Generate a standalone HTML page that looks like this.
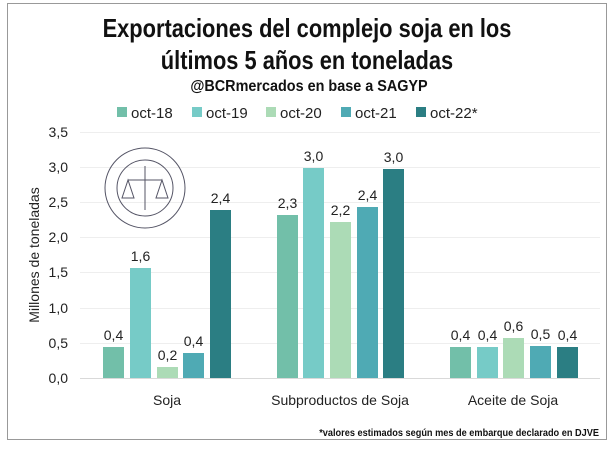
<!DOCTYPE html><html><head><meta charset="utf-8"><style>body{margin:0;background:#fff}svg{display:block}</style></head><body>
<svg width="614" height="449" xmlns="http://www.w3.org/2000/svg" font-family="Liberation Sans, sans-serif">
<rect x="0" y="0" width="614" height="449" fill="#fff"/>
<rect x="7.5" y="3.5" width="599" height="436" fill="none" stroke="#999" stroke-width="1"/>
<g font-weight="bold" text-anchor="middle" fill="#111">
<text x="307" y="37" font-size="26" transform="translate(307,0) scale(0.84,1) translate(-307,0)">Exportaciones del complejo soja en los</text>
<text x="307" y="69" font-size="26" transform="translate(307,0) scale(0.84,1) translate(-307,0)">últimos 5 años en toneladas</text>
<text x="309" y="91" font-size="16" transform="translate(309,0) scale(0.9,1) translate(-309,0)">@BCRmercados en base a SAGYP</text>
</g>
<g font-size="15" fill="#222">
<rect x="117" y="107" width="10" height="10" fill="#72bfa9"/><text x="131" y="118">oct-18</text>
<rect x="192" y="107" width="10" height="10" fill="#76cbc7"/><text x="206" y="118">oct-19</text>
<rect x="266" y="107" width="10" height="10" fill="#acdbb6"/><text x="280" y="118">oct-20</text>
<rect x="341" y="107" width="10" height="10" fill="#4faab4"/><text x="355" y="118">oct-21</text>
<rect x="416" y="107" width="10" height="10" fill="#2b7e83"/><text x="430" y="118">oct-22*</text>
</g>
<g stroke="#eee" stroke-width="1">
<line x1="80" x2="600" y1="132.5" y2="132.5"/><line x1="80" x2="600" y1="167.5" y2="167.5"/><line x1="80" x2="600" y1="202.5" y2="202.5"/><line x1="80" x2="600" y1="237.5" y2="237.5"/><line x1="80" x2="600" y1="272.5" y2="272.5"/><line x1="80" x2="600" y1="308.5" y2="308.5"/><line x1="80" x2="600" y1="343.5" y2="343.5"/>
</g>
<line x1="80" x2="600" y1="378.5" y2="378.5" stroke="#d9d9d9"/>
<g font-size="14" fill="#222" text-anchor="end">
<text x="68" y="383">0,0</text><text x="68" y="348">0,5</text><text x="68" y="313">1,0</text><text x="68" y="277">1,5</text><text x="68" y="242">2,0</text><text x="68" y="207">2,5</text><text x="68" y="172">3,0</text><text x="68" y="137">3,5</text>
</g>
<text transform="translate(39,255) rotate(-90)" font-size="14" fill="#222" text-anchor="middle">Millones de toneladas</text>
<g fill="none" stroke="#556" stroke-width="1">
<circle cx="145" cy="188" r="40"/><circle cx="145" cy="188" r="28"/>
<line x1="145" y1="166" x2="145" y2="210"/><line x1="128" y1="180" x2="162" y2="180"/>
<path d="M128 180 l-6 18 h12 z M162 180 l-6 18 h12 z"/>
</g>
<g font-size="14" fill="#222" text-anchor="middle">
<rect x="103" y="347" width="21" height="31" fill="#72bfa9"/><text x="113.5" y="340">0,4</text>
<rect x="130" y="268" width="21" height="110" fill="#76cbc7"/><text x="140.5" y="261">1,6</text>
<rect x="157" y="367" width="21" height="11" fill="#acdbb6"/><text x="167.5" y="360">0,2</text>
<rect x="183" y="353" width="21" height="25" fill="#4faab4"/><text x="193.5" y="346">0,4</text>
<rect x="210" y="210" width="21" height="168" fill="#2b7e83"/><text x="220.5" y="203">2,4</text>
<rect x="277" y="215" width="21" height="163" fill="#72bfa9"/><text x="287.5" y="208">2,3</text>
<rect x="303" y="168" width="21" height="210" fill="#76cbc7"/><text x="313.5" y="161">3,0</text>
<rect x="330" y="222" width="21" height="156" fill="#acdbb6"/><text x="340.5" y="215">2,2</text>
<rect x="357" y="207" width="21" height="171" fill="#4faab4"/><text x="367.5" y="200">2,4</text>
<rect x="383" y="169" width="21" height="209" fill="#2b7e83"/><text x="393.5" y="162">3,0</text>
<rect x="450" y="347" width="21" height="31" fill="#72bfa9"/><text x="460.5" y="340">0,4</text>
<rect x="477" y="347" width="21" height="31" fill="#76cbc7"/><text x="487.5" y="340">0,4</text>
<rect x="503" y="338" width="21" height="40" fill="#acdbb6"/><text x="513.5" y="331">0,6</text>
<rect x="530" y="346" width="21" height="32" fill="#4faab4"/><text x="540.5" y="339">0,5</text>
<rect x="557" y="347" width="21" height="31" fill="#2b7e83"/><text x="567.5" y="340">0,4</text>
</g>
<g font-size="14" fill="#222" text-anchor="middle">
<text x="167" y="405">Soja</text><text x="340" y="405">Subproductos de Soja</text><text x="513" y="405">Aceite de Soja</text>
</g>
<text x="599" y="436" font-size="10" font-weight="bold" fill="#111" text-anchor="end" transform="translate(599,0) scale(0.92,1) translate(-599,0)">*valores estimados según mes de embarque declarado en DJVE</text>
</svg>
</body></html>
